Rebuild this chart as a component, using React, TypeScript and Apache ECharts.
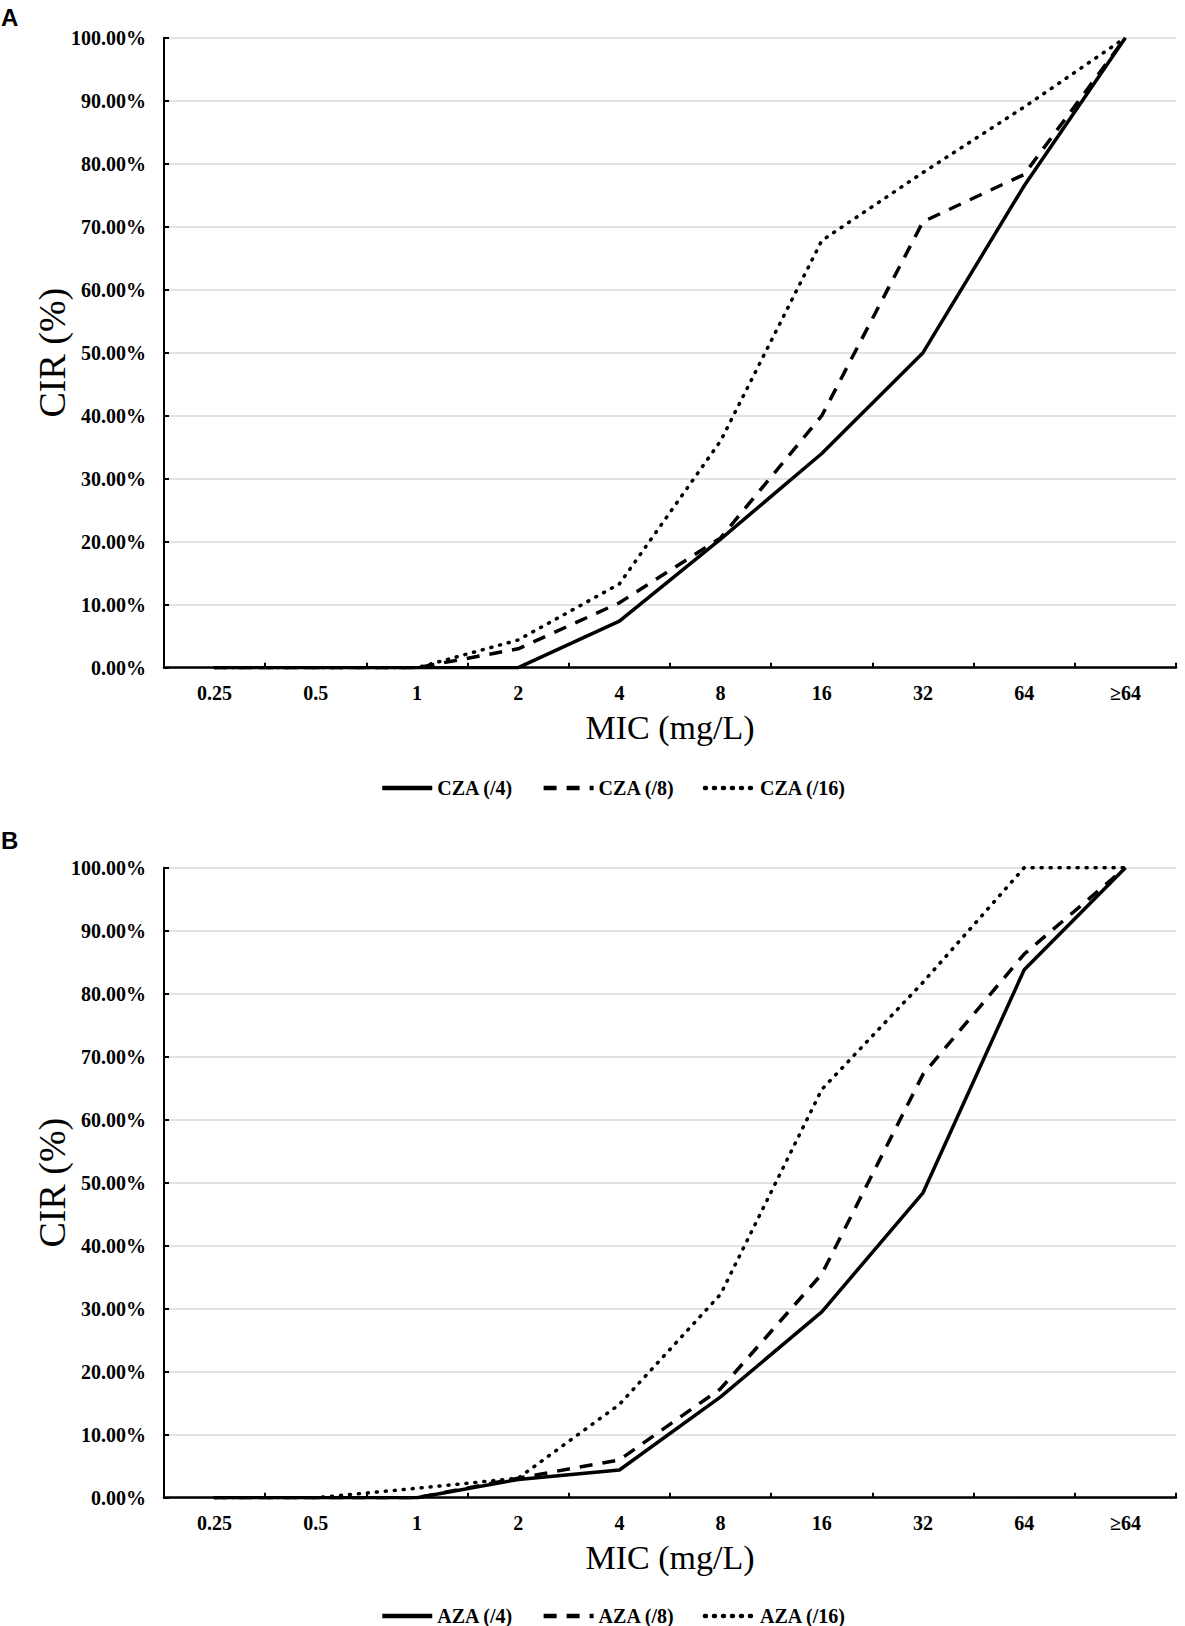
import React, { useEffect, useRef } from "react";
import * as echarts from "echarts";

// MIC categories (x axis)
const categories = ["0.25", "0.5", "1", "2", "4", "8", "16", "32", "64", "≥64"];

// Panel A – CZA cumulative inhibition rate (%)
const czaNames = ["CZA (/4)", "CZA (/8)", "CZA (/16)"];
const cza4 = [0, 0, 0, 0, 7.4, 20.4, 34.0, 50.0, 76.5, 100];
const cza8 = [0, 0, 0, 3.0, 10.3, 20.6, 40.0, 70.8, 78.3, 100];
const cza16 = [0, 0, 0, 4.4, 13.3, 36.0, 67.8, 78.6, 89.0, 100];

// Panel B – AZA cumulative inhibition rate (%)
const azaNames = ["AZA (/4)", "AZA (/8)", "AZA (/16)"];
const aza4 = [0, 0, 0, 2.9, 4.4, 16.0, 29.5, 48.4, 83.8, 100];
const aza8 = [0, 0, 0, 3.1, 6.0, 17.3, 35.5, 67.2, 86.3, 100];
const aza16 = [0, 0, 1.5, 3.1, 14.8, 32.3, 64.8, 81.8, 100, 100];

const panelLabels = ["A", "B"];
const xName = "MIC (mg/L)";
const yName = "CIR (%)";

const SERIF = "'Liberation Serif', 'Times New Roman', serif";
const SANS = "'Liberation Sans', Arial, sans-serif";

const lineTypes: any[] = ["solid", [13, 10], [1, 8]];

export default function App() {
  const ref = useRef<HTMLDivElement>(null);

  useEffect(() => {
    if (!ref.current) return;
    const chart = echarts.init(ref.current, undefined, { renderer: "svg" });

    const grids = [
      { left: 164, top: 37.7, width: 1012, height: 630 },
      { left: 164, top: 867.7, width: 1012, height: 630 },
    ];

    const mkX = (gi: number) => ({
      type: "category",
      gridIndex: gi,
      data: categories,
      boundaryGap: true,
      axisLine: { show: true, lineStyle: { color: "#000", width: 2.5 } },
      axisTick: { show: true, inside: true, length: 5, lineStyle: { color: "#000", width: 2 } },
      axisLabel: {
        color: "#000",
        fontFamily: SERIF,
        fontWeight: "bold",
        fontSize: 20,
        margin: 15,
      },
      splitLine: { show: false },
      name: xName,
      nameLocation: "middle",
      nameGap: 43,
      nameTextStyle: { color: "#000", fontFamily: SERIF, fontSize: 34 },
    });

    const mkY = (gi: number) => ({
      type: "value",
      gridIndex: gi,
      min: 0,
      max: 100,
      interval: 10,
      axisLine: { show: true, lineStyle: { color: "#000", width: 2 } },
      axisTick: { show: true, inside: true, length: 5, lineStyle: { color: "#000", width: 2 } },
      axisLabel: {
        color: "#000",
        fontFamily: SERIF,
        fontWeight: "bold",
        fontSize: 20,
        margin: 18,
        formatter: (v: number) => v.toFixed(2) + "%",
      },
      splitLine: { show: true, lineStyle: { color: "#d9d9d9", width: 1.5 } },
      name: yName,
      nameLocation: "middle",
      nameGap: 93,
      nameRotate: 90,
      nameMoveOverlap: false,
      nameTextStyle: { color: "#000", fontFamily: SERIF, fontSize: 38 },
    });

    const mkSeries = (name: string, data: number[], idx: number, gi: number) => ({
      type: "line",
      name,
      data,
      xAxisIndex: gi,
      yAxisIndex: gi,
      symbol: "none",
      lineStyle: {
        color: "#000",
        width: 3.5,
        type: lineTypes[idx],
        cap: idx === 2 ? "round" : "butt",
      },
      itemStyle: { color: "#000" },
    });

    const mkLegend = (names: string[], top: number) => ({
      data: names,
      left: 375,
      top,
      itemWidth: 50,
      itemHeight: 14,
      itemGap: 28,
      selectedMode: false,
      itemStyle: { opacity: 0 },
      lineStyle: { width: 4.5 },
      textStyle: { color: "#000", fontFamily: SERIF, fontWeight: "bold", fontSize: 20 },
    });

    chart.setOption({
      animation: false,
      backgroundColor: "#fff",
      grid: grids,
      xAxis: [mkX(0), mkX(1)],
      yAxis: [mkY(0), mkY(1)],
      legend: [mkLegend(czaNames, 773), mkLegend(azaNames, 1601)],
      series: [
        mkSeries(czaNames[0], cza4, 0, 0),
        mkSeries(czaNames[1], cza8, 1, 0),
        mkSeries(czaNames[2], cza16, 2, 0),
        mkSeries(azaNames[0], aza4, 0, 1),
        mkSeries(azaNames[1], aza8, 1, 1),
        mkSeries(azaNames[2], aza16, 2, 1),
      ],
      graphic: [
        {
          type: "text",
          left: 1,
          top: 5,
          style: { text: panelLabels[0], fill: "#000", font: `bold 24px ${SANS}` },
        },
        {
          type: "text",
          left: 1,
          top: 828,
          style: { text: panelLabels[1], fill: "#000", font: `bold 24px ${SANS}` },
        },
      ],
    });

    return () => chart.dispose();
  }, []);

  return (
    <div
      ref={ref}
      style={{ position: "absolute", left: 0, top: 0, width: 1185, height: 1626, background: "#fff" }}
    />
  );
}
